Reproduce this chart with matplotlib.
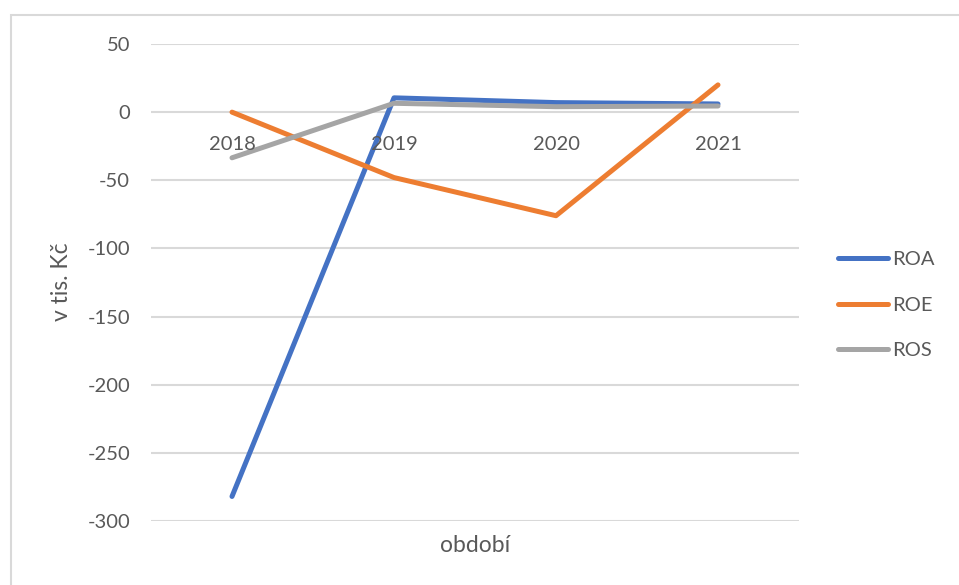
import matplotlib.pyplot as plt
from matplotlib.patches import Rectangle

plt.rcParams['font.family'] = ['Lato', 'DejaVu Sans']
plt.rcParams['axes.unicode_minus'] = False

years = ['2018', '2019', '2020', '2021']
roa = [-282, 10.5, 7, 6]
roe = [0, -48, -76, 20]
ros = [-33.5, 6.5, 4, 4.5]

series = [('ROA', roa, '#4472C4'), ('ROE', roe, '#ED7D31'), ('ROS', ros, '#A5A5A5')]
text_color = '#595959'
grid_color = '#D9D9D9'
fs = 14.5
title_fs = 16.5

W, H = 959, 585
fig = plt.figure(figsize=(W / 100, H / 100), dpi=100)

# chart frame, left/top edges visible
fig.patches.append(Rectangle((11 / W, -0.05), 1.2, 1 - 15 / H + 0.05, transform=fig.transFigure,
                             fill=False, edgecolor='#D9D9D9', linewidth=1.5))

ax = fig.add_axes([151 / W, (H - 521) / H, 648 / W, 477 / H])
x = list(range(len(years)))
for name, vals, color in series:
    ax.plot(x, vals, color=color, linewidth=3.6, solid_capstyle='round',
            solid_joinstyle='round', label=name, zorder=3)

ax.set_xlim(-0.5, len(years) - 0.5)
ax.set_ylim(-300, 50)
ax.set_yticks(range(-300, 51, 50))
ax.yaxis.grid(True, color=grid_color, linewidth=1.5)
ax.set_axisbelow(True)
for s in ax.spines.values():
    s.set_visible(False)
ax.tick_params(axis='y', length=0, pad=15, labelsize=fs, labelcolor=text_color)
ax.set_xticks([])

# category labels sit just under the zero line
for xi, yr in zip(x, years):
    ax.annotate(yr, (xi, 0), xytext=(0, -23.5), textcoords='offset points',
                ha='center', va='center', fontsize=fs, color=text_color)

fig.text(62 / W, 1 - 282 / H, 'v tis. Kč', rotation=90, ha='center', va='center',
         fontsize=title_fs, color=text_color)
fig.text(475 / W, 1 - 546 / H, 'období', ha='center', va='center',
         fontsize=title_fs, color=text_color)

leg = fig.legend(loc='center left', bbox_to_anchor=(820 / W, 1 - 305 / H), frameon=False,
                 fontsize=fs, labelcolor=text_color, handlelength=2.5, handletextpad=0.2,
                 labelspacing=1.4)

fig.savefig('out.png', dpi=100)
